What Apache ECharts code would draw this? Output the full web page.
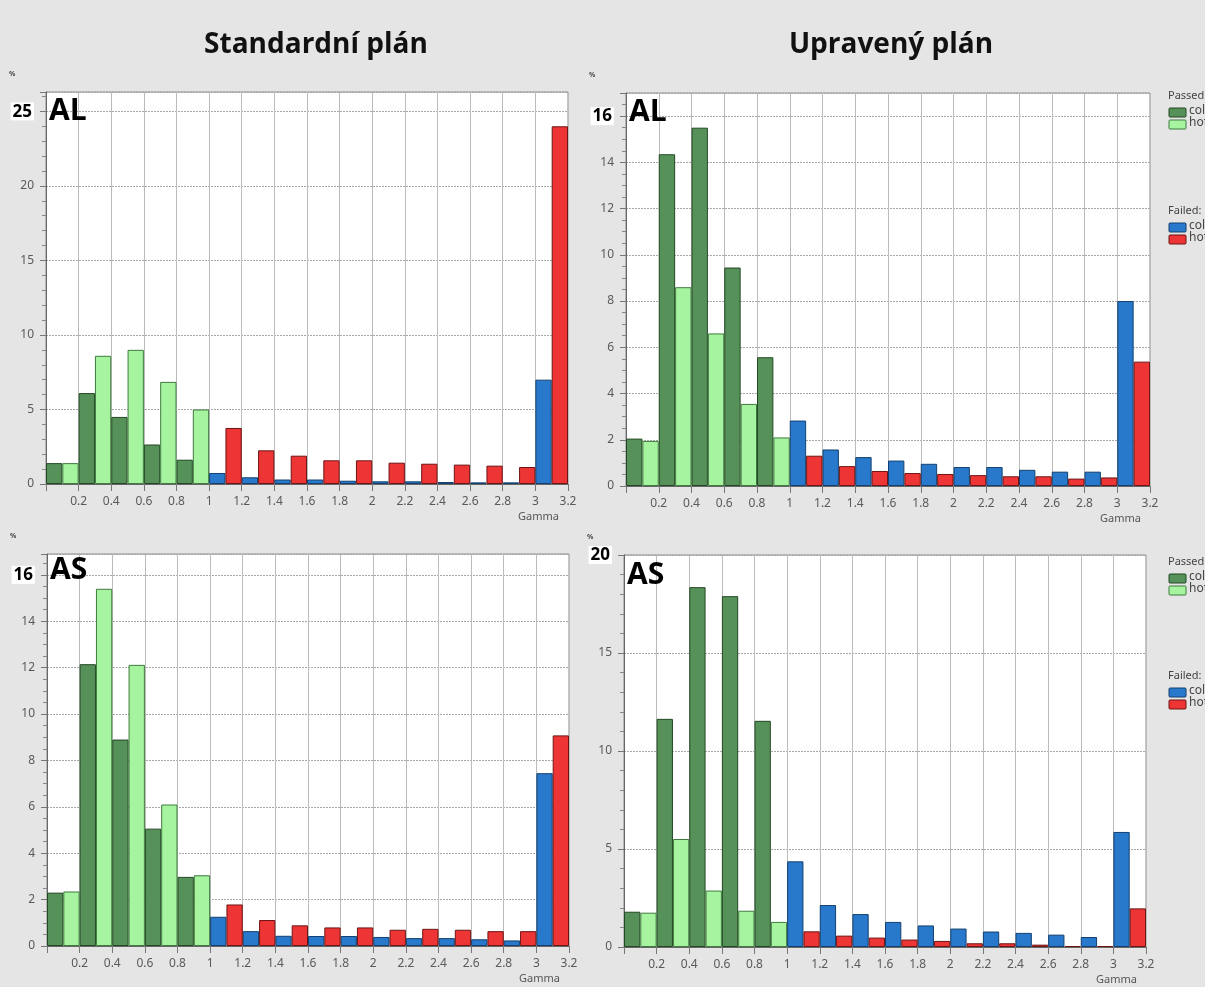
<!DOCTYPE html>
<html>
<head>
<meta charset="utf-8">
<script src="https://cdn.jsdelivr.net/npm/echarts@6/dist/echarts.min.js"></script>
<style>
  html, body { margin: 0; padding: 0; background: #e5e5e5; }
  #chart { width: 1205px; height: 987px; }
</style>
</head>
<body>
<div id="chart"></div>
<script>
// Gamma histogram bins: 32 bins of width 0.1 on [0, 3.2].
// Each 0.2-wide interval holds one "cold" bin followed by one "hot" bin.
const gammaBins = [];
for (let i = 0; i < 32; i++) gammaBins.push((i / 10).toFixed(1) + '–' + ((i + 1) / 10).toFixed(1));

// Intervals below gamma = 1 (the first five pairs) count as passed.
const PASSED_PAIRS = 5;

// Standardní plán – AL (percent of points per pair of bins)
const alStdCold = [1.4, 6.1, 4.5, 2.65, 1.63, 0.74, 0.45, 0.3, 0.3, 0.22, 0.18, 0.18, 0.13, 0.11, 0.11, 7.0];
const alStdHot  = [1.4, 8.6, 9.0, 6.85, 5.0, 3.76, 2.26, 1.9, 1.59, 1.59, 1.43, 1.36, 1.3, 1.23, 1.14, 24.0];

// Upravený plán – AL
const alModCold = [2.05, 14.35, 15.5, 9.45, 5.57, 2.83, 1.58, 1.25, 1.1, 0.96, 0.82, 0.82, 0.7, 0.62, 0.62, 8.0];
const alModHot  = [1.95, 8.6, 6.6, 3.55, 2.1, 1.31, 0.86, 0.65, 0.56, 0.52, 0.47, 0.42, 0.42, 0.32, 0.37, 5.38];

// Standardní plán – AS
const asStdCold = [2.3, 12.15, 8.9, 5.06, 2.98, 1.26, 0.64, 0.44, 0.43, 0.43, 0.39, 0.34, 0.34, 0.29, 0.24, 7.45];
const asStdHot  = [2.35, 15.4, 12.12, 6.1, 3.05, 1.79, 1.12, 0.89, 0.8, 0.8, 0.7, 0.74, 0.7, 0.64, 0.64, 9.08];

// Upravený plán – AS
const asModCold = [1.8, 11.64, 18.36, 17.9, 11.54, 4.37, 2.14, 1.68, 1.28, 1.1, 0.94, 0.79, 0.72, 0.63, 0.51, 5.87];
const asModHot  = [1.75, 5.51, 2.88, 1.85, 1.28, 0.8, 0.58, 0.48, 0.38, 0.31, 0.19, 0.19, 0.12, 0.05, 0.05, 1.97];

const columnTitles = ['Standardní plán', 'Upravený plán'];
const legendGroups = [
  { title: 'Passed:', items: ['cold', 'hot'] },
  { title: 'Failed:', items: ['cold', 'hot'] }
];

const COLORS = {
  passedCold: '#57915a', passedHot: '#a6f3a0',
  failedCold: '#2878cc', failedHot: '#ee3535'
};
const BORDERS = {
  passedCold: '#234823', passedHot: '#3f7a3f',
  failedCold: '#13406e', failedHot: '#6e1414'
};

// Panel definitions: data plus y-axis scale
const panels = [
  { tag: 'AL', cold: alStdCold, hot: alStdHot, yMax: 26.3, yInterval: 5, minorSplit: 5, topLabel: 25 },
  { tag: 'AL', cold: alModCold, hot: alModHot, yMax: 17,   yInterval: 2, minorSplit: 4, topLabel: 16 },
  { tag: 'AS', cold: asStdCold, hot: asStdHot, yMax: 16.9, yInterval: 2, minorSplit: 4, topLabel: 16 },
  { tag: 'AS', cold: asModCold, hot: asModHot, yMax: 20,   yInterval: 5, minorSplit: 5, topLabel: 20 }
];

// Plot rectangles, in page pixels
const layout = [
  { left: 46,  top: 92,  width: 522, height: 392, tagDy: 4 },
  { left: 626, top: 93,  width: 524, height: 393, tagDy: 4 },
  { left: 47,  top: 554, width: 522, height: 392, tagDy: 1 },
  { left: 624, top: 555, width: 522, height: 392, tagDy: 5 }
];
const titleCenters = [316, 891];

const FONT = 'Noto Sans';

function binSeriesData(values, parity, passed) {
  const out = new Array(gammaBins.length).fill('-');
  values.forEach((v, i) => {
    if ((i < PASSED_PAIRS) === passed) out[2 * i + parity] = v;
  });
  return out;
}

const grid = [], xAxis = [], yAxis = [], series = [], graphic = [];

panels.forEach((p, k) => {
  const L = layout[k];
  grid.push({
    left: L.left, top: L.top, width: L.width, height: L.height,
    show: true, backgroundColor: '#ffffff', borderColor: '#8a8a8a', borderWidth: 1
  });

  // bin axis carrying the bars
  xAxis.push({
    type: 'category', gridIndex: k, data: gammaBins, boundaryGap: true, show: false
  });
  // gamma value axis for ticks, labels and vertical grid lines
  xAxis.push({
    type: 'value', gridIndex: k, min: 0, max: 3.2, interval: 0.2, position: 'bottom',
    axisLine: { show: true, lineStyle: { color: '#666', width: 1 } },
    axisTick: { show: true, length: 7, inside: false, lineStyle: { color: '#777' } },
    axisLabel: {
      color: '#5a5a5a', fontSize: 12, fontFamily: FONT, margin: 12,
      formatter: v => (v < 0.01 ? '' : String(Math.round(v * 10) / 10))
    },
    splitLine: { show: true, lineStyle: { color: '#bcbcbc', width: 1 } }
  });

  const iv = p.yInterval, top = p.topLabel;
  yAxis.push({
    type: 'value', gridIndex: k, min: 0, max: p.yMax, interval: iv,
    axisLine: { show: true, lineStyle: { color: '#666', width: 1 } },
    axisTick: { show: true, length: 6, lineStyle: { color: '#777' } },
    minorTick: { show: true, splitNumber: p.minorSplit, length: 4, lineStyle: { color: '#888' } },
    axisLabel: {
      color: '#5a5a5a', fontSize: 12, fontFamily: FONT, margin: 12,
      formatter: v => {
        if (Math.abs(v / iv - Math.round(v / iv)) > 1e-6) return '';
        return v === top ? '{big|' + v + '}' : String(v);
      },
      rich: {
        big: {
          fontSize: 17, fontWeight: 'bold', color: '#000', fontFamily: 'Open Sans',
          backgroundColor: '#ffffff', padding: [1, 2, 0, 2]
        }
      }
    },
    splitLine: { show: true, lineStyle: { color: '#a8a8a8', width: 1, type: [2, 1] } }
  });

  const kinds = [
    ['passedCold', 0, true], ['passedHot', 1, true],
    ['failedCold', 0, false], ['failedHot', 1, false]
  ];
  kinds.forEach(([key, parity, passed]) => {
    series.push({
      type: 'bar', name: key, xAxisIndex: 2 * k, yAxisIndex: k,
      data: binSeriesData(parity === 0 ? p.cold : p.hot, parity, passed),
      barGap: '-100%', barCategoryGap: '0%',
      itemStyle: { color: COLORS[key], borderColor: BORDERS[key], borderWidth: 1 },
      silent: true, animation: false
    });
  });

  // panel tag (AL / AS)
  graphic.push({
    type: 'text', left: L.left + 3, top: L.top + L.tagDy, z: 100,
    style: { text: p.tag, font: 'bold 30px "Open Sans"', fill: '#000' }
  });
  // unit mark above the y axis
  graphic.push({
    type: 'text', left: L.left - 37, top: L.top - 22, z: 100,
    style: { text: '%', font: 'bold 7px "Noto Sans"', fill: '#444' }
  });
  // x-axis name under the right end
  graphic.push({
    type: 'text', left: L.left + L.width - 50, top: L.height + L.top + 27, z: 100,
    style: { text: 'Gamma', font: '11px "Noto Sans"', fill: '#555' }
  });
});

// column titles
columnTitles.forEach((t, i) => {
  graphic.push({
    type: 'text', x: titleCenters[i], y: 45, z: 100,
    style: { text: t, font: 'bold 28px "Open Sans"', fill: '#111', align: 'center', verticalAlign: 'middle' }
  });
});

// legends beside the right-hand panels
const swatchColors = [[COLORS.passedCold, COLORS.passedHot], [COLORS.failedCold, COLORS.failedHot]];
const swatchBorders = [[BORDERS.passedCold, BORDERS.passedHot], [BORDERS.failedCold, BORDERS.failedHot]];
[[90, 205], [556, 670]].forEach(groupTops => {
  legendGroups.forEach((g, gi) => {
    const y0 = groupTops[gi];
    graphic.push({
      type: 'text', left: 1168, top: y0, z: 100,
      style: { text: g.title, font: '11px "Noto Sans"', fill: '#444' }
    });
    g.items.forEach((name, ii) => {
      const y = y0 + 18 + ii * 12;
      graphic.push({
        type: 'rect', z: 100, shape: { x: 1169, y: y, width: 17, height: 9, r: 1 },
        style: { fill: swatchColors[gi][ii], stroke: swatchBorders[gi][ii], lineWidth: 1 }
      });
      graphic.push({
        type: 'text', left: 1189, top: y - 3, z: 100,
        style: { text: name, font: '12px "Noto Sans"', fill: '#444' }
      });
    });
  });
});

const chart = echarts.init(document.getElementById('chart'), null, { renderer: 'canvas' });
chart.setOption({
  backgroundColor: '#e5e5e5',
  animation: false,
  grid, xAxis, yAxis, series, graphic
});
</script>
</body>
</html>
